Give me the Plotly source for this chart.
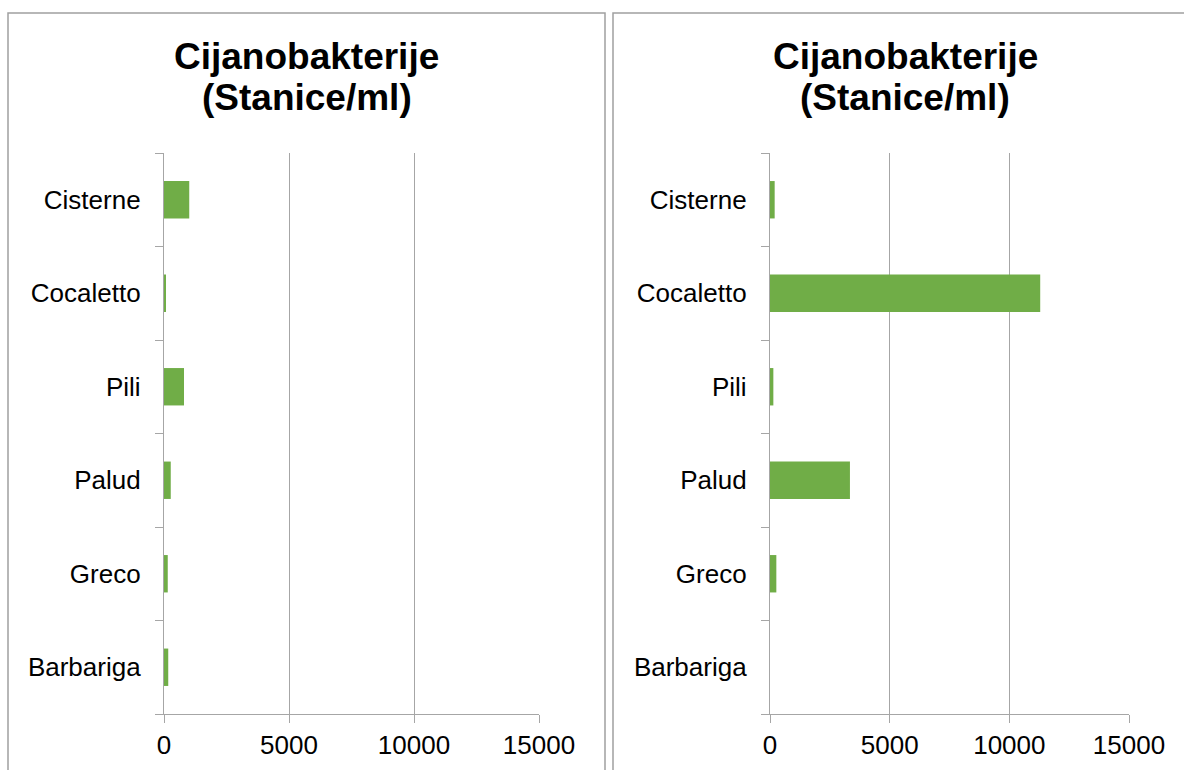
import plotly.graph_objects as go

categories = ["Cisterne", "Cocaletto", "Pili", "Palud", "Greco", "Barbariga"]
left_values = [1010, 80, 800, 270, 150, 170]
right_values = [195, 11290, 140, 3340, 265, 0]
x_ticks = [0, 5000, 10000, 15000]
title_line1 = "Cijanobakterije"
title_line2 = "(Stanice/ml)"

W, H = 1184, 770
BAR = "#70AD47"
GRID = "#A6A6A6"
FONT = "Liberation Sans, Arial, sans-serif"

def px_x(p):
    return p / W

def px_y(p):
    return 1 - p / H

fig = go.Figure()
fig.add_trace(go.Bar(y=categories, x=left_values, orientation="h",
                     marker=dict(color=BAR, line=dict(width=0)),
                     xaxis="x", yaxis="y", showlegend=False))
fig.add_trace(go.Bar(y=categories, x=right_values, orientation="h",
                     marker=dict(color=BAR, line=dict(width=0)),
                     xaxis="x2", yaxis="y2", showlegend=False))

ydom = [px_y(714), px_y(153)]

def xax(domain, anchor):
    return dict(domain=domain, anchor=anchor, range=[0, 15000],
                tickvals=x_ticks, ticktext=[str(v) for v in x_ticks],
                showgrid=True, gridcolor=GRID, gridwidth=1.3,
                showline=True, linecolor=GRID, linewidth=1.3,
                ticks="outside", ticklen=8, tickcolor=GRID, tickwidth=1.3,
                tickfont=dict(family=FONT, size=26, color="#000000"),
                zeroline=False, fixedrange=True, automargin=False)

def yax(anchor):
    return dict(domain=ydom, anchor=anchor, type="category",
                categoryorder="array", categoryarray=list(reversed(categories)),
                tickson="boundaries",
                showgrid=False, showline=True, linecolor=GRID, linewidth=1.3,
                ticks="outside", ticklen=8, tickcolor=GRID, tickwidth=1.3,
                ticklabelstandoff=17,
                tickfont=dict(family=FONT, size=26, color="#000000"),
                fixedrange=True, automargin=False)

fig.update_layout(
    width=W, height=H,
    margin=dict(l=0, r=0, t=0, b=0, autoexpand=False),
    paper_bgcolor="white", plot_bgcolor="white",
    bargap=0.6,
    xaxis=xax([px_x(164), px_x(539)], "y"),
    yaxis=yax("x"),
    xaxis2=xax([px_x(770), px_x(1129)], "y2"),
    yaxis2=yax("x2"),
)

# panel borders
fig.add_shape(type="rect", xref="paper", yref="paper",
              x0=px_x(8), x1=px_x(605), y0=px_y(800), y1=px_y(13),
              line=dict(color="#A0A0A0", width=1.5), fillcolor="rgba(0,0,0,0)", layer="below")
fig.add_shape(type="rect", xref="paper", yref="paper",
              x0=px_x(613), x1=px_x(1197), y0=px_y(800), y1=px_y(13),
              line=dict(color="#A0A0A0", width=1.5), fillcolor="rgba(0,0,0,0)", layer="below")

for cx in (306.5, 905):
    for text, cy in ((title_line1, 56), (title_line2, 98)):
        fig.add_annotation(text=f"<b>{text}</b>", xref="paper", yref="paper",
                           x=px_x(cx), y=px_y(cy), xanchor="center", yanchor="middle",
                           showarrow=False,
                           font=dict(family=FONT, size=37, color="#000000"))

fig.write_html("out.html", config={"displayModeBar": False},
               post_script="document.body.style.margin='0';document.body.style.overflow='hidden';")
